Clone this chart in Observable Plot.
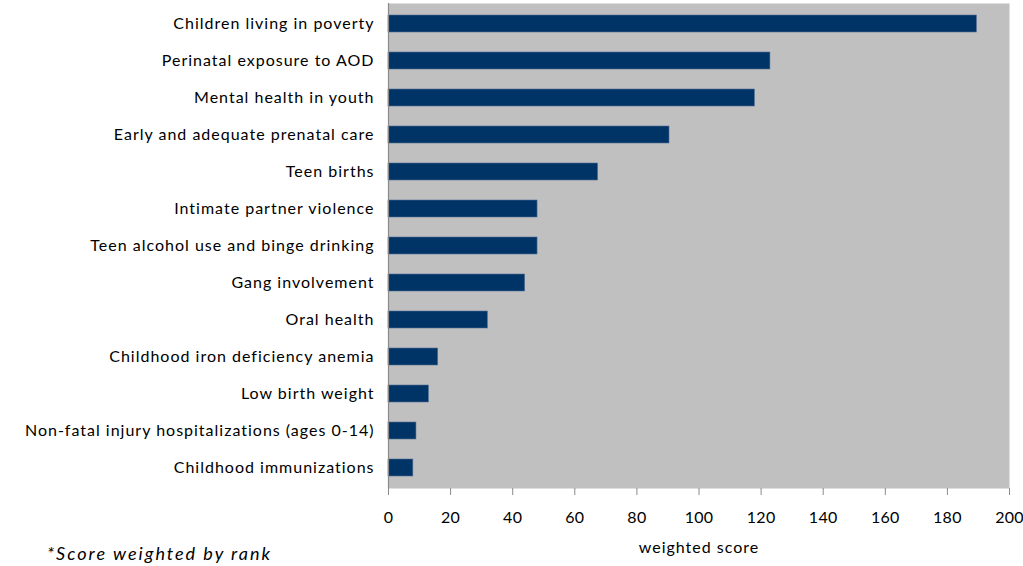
<!DOCTYPE html>
<html>
<head>
<meta charset="utf-8">
<script src="https://cdn.jsdelivr.net/npm/d3@7"></script>
<script src="https://cdn.jsdelivr.net/npm/@observablehq/plot@0.6"></script>
<style>
  html, body { margin: 0; padding: 0; background: white; overflow: hidden; width: 1023px; height: 566px; }
  #wrap { position: relative; width: 1023px; height: 566px; }
  #note { position: absolute; left: 47px; top: 543px; font-family: Lato, "Open Sans", sans-serif; font-style: italic; font-size: 18px; letter-spacing: 2px; line-height: 20px; color: #000; white-space: nowrap; }
  g[aria-label="x-axis tick label"] text { letter-spacing: 0.3px; }
</style>
</head>
<body>
<div id="wrap">
  <div id="chart"></div>
  <div id="note">*Score weighted by rank</div>
</div>
<script>
const categories = [
  "Children living in poverty",
  "Perinatal exposure to AOD",
  "Mental health in youth",
  "Early and adequate prenatal care",
  "Teen births",
  "Intimate partner violence",
  "Teen alcohol use and binge drinking",
  "Gang involvement",
  "Oral health",
  "Childhood iron deficiency anemia",
  "Low birth weight",
  "Non-fatal injury hospitalizations (ages 0-14)",
  "Childhood immunizations"
];
const scores = [189.5, 123, 118, 90.5, 67.5, 48, 48, 44, 32, 16, 13, 9, 8];
const xTicks = [0, 20, 40, 60, 80, 100, 120, 140, 160, 180, 200];
const xLabel = "weighted score";

const data = categories.map((c, i) => ({category: c, score: scores[i]}));

const chart = Plot.plot({
  width: 1023,
  height: 566,
  marginLeft: 388,
  marginRight: 14,
  marginTop: 3,
  marginBottom: 78,
  style: {fontFamily: "Lato, 'Open Sans', sans-serif", fontSize: "16px", letterSpacing: "1px", background: "white", color: "#000"},
  x: {domain: [0, 200]},
  y: {domain: categories, paddingInner: 0.54, paddingOuter: 0.29},
  marks: [
    Plot.frame({fill: "#C0C0C0", stroke: null}),
    Plot.barX(data, {y: "category", x: "score", fill: "#003366", stroke: "#4f6f95", strokeWidth: 0.6}),
    Plot.ruleX([0], {stroke: "#8a8a8a", strokeWidth: 1.2}),
    Plot.axisY({label: null, tickSize: 0, tickPadding: 14, fontSize: 16, fill: "#000"}),
    Plot.axisX({ticks: xTicks, tickFormat: d => String(d), tickSize: 7, tickPadding: 16, stroke: "#8a8a8a", fill: "#000", fontSize: 16,
      label: xLabel, labelAnchor: "center", labelArrow: "none", labelOffset: 64})
  ]
});
document.getElementById("chart").appendChild(chart);
</script>
</body>
</html>
